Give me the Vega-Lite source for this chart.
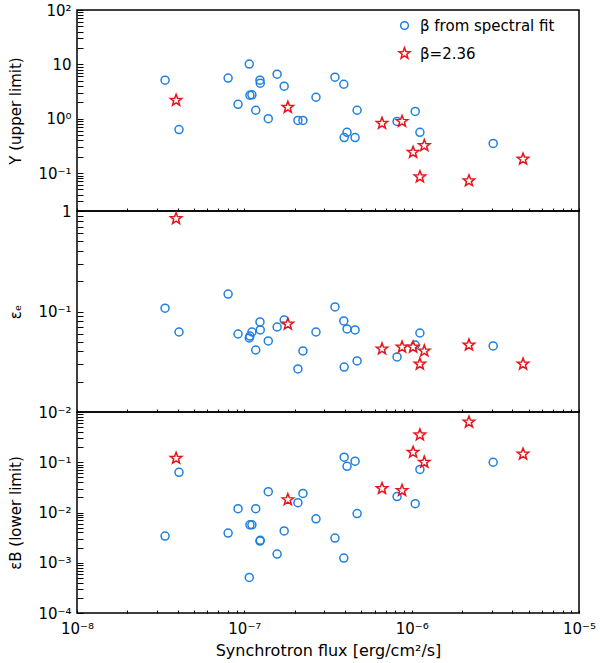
{
  "$schema": "https://vega.github.io/schema/vega-lite/v6.json",
  "description": "Y, epsilon_e and epsilon_B against synchrotron flux, two samples",
  "padding": {"left": 8, "top": 2, "right": 3, "bottom": 2},
  "data": {
    "values": [
      {"flux": 3.36e-8, "Y": 5.1, "ee": 0.108, "eB": 0.0034, "type": "fit"},
      {"flux": 4.07e-8, "Y": 0.63, "ee": 0.0625, "eB": 0.063, "type": "fit"},
      {"flux": 8.0e-8, "Y": 5.6, "ee": 0.149, "eB": 0.0039, "type": "fit"},
      {"flux": 9.17e-8, "Y": 1.84, "ee": 0.0597, "eB": 0.0119, "type": "fit"},
      {"flux": 1.07e-7, "Y": 10.1, "ee": 0.0545, "eB": 0.00051, "type": "fit"},
      {"flux": 1.08e-7, "Y": 2.7, "ee": 0.057, "eB": 0.0057, "type": "fit"},
      {"flux": 1.11e-7, "Y": 2.75, "ee": 0.0625, "eB": 0.0057, "type": "fit"},
      {"flux": 1.17e-7, "Y": 1.43, "ee": 0.0414, "eB": 0.0119, "type": "fit"},
      {"flux": 1.24e-7, "Y": 5.1, "ee": 0.0787, "eB": 0.0027, "type": "fit"},
      {"flux": 1.245e-7, "Y": 4.5, "ee": 0.0655, "eB": 0.0028, "type": "fit"},
      {"flux": 1.39e-7, "Y": 1.0, "ee": 0.0509, "eB": 0.026, "type": "fit"},
      {"flux": 1.57e-7, "Y": 6.6, "ee": 0.0701, "eB": 0.00149, "type": "fit"},
      {"flux": 1.73e-7, "Y": 3.96, "ee": 0.0823, "eB": 0.0043, "type": "fit"},
      {"flux": 2.09e-7, "Y": 0.93, "ee": 0.0268, "eB": 0.0157, "type": "fit"},
      {"flux": 2.24e-7, "Y": 0.93, "ee": 0.0405, "eB": 0.024, "type": "fit"},
      {"flux": 2.68e-7, "Y": 2.48, "ee": 0.0625, "eB": 0.0075, "type": "fit"},
      {"flux": 3.48e-7, "Y": 5.8, "ee": 0.111, "eB": 0.0031, "type": "fit"},
      {"flux": 3.93e-7, "Y": 4.3, "ee": 0.0805, "eB": 0.00124, "type": "fit"},
      {"flux": 3.95e-7, "Y": 0.45, "ee": 0.028, "eB": 0.126, "type": "fit"},
      {"flux": 4.11e-7, "Y": 0.56, "ee": 0.067, "eB": 0.083, "type": "fit"},
      {"flux": 4.59e-7, "Y": 0.45, "ee": 0.0655, "eB": 0.105, "type": "fit"},
      {"flux": 4.72e-7, "Y": 1.43, "ee": 0.0322, "eB": 0.0095, "type": "fit"},
      {"flux": 8.18e-7, "Y": 0.89, "ee": 0.0353, "eB": 0.0207, "type": "fit"},
      {"flux": 1.05e-6, "Y": 1.36, "ee": 0.0464, "eB": 0.015, "type": "fit"},
      {"flux": 1.12e-6, "Y": 0.56, "ee": 0.0611, "eB": 0.072, "type": "fit"},
      {"flux": 3.07e-6, "Y": 0.35, "ee": 0.0454, "eB": 0.1, "type": "fit"},
      {"flux": 3.91e-8, "Y": 2.18, "ee": 0.84, "eB": 0.12, "type": "fixed"},
      {"flux": 1.82e-7, "Y": 1.62, "ee": 0.075, "eB": 0.018, "type": "fixed"},
      {"flux": 6.65e-7, "Y": 0.82, "ee": 0.0424, "eB": 0.03, "type": "fixed"},
      {"flux": 8.76e-7, "Y": 0.89, "ee": 0.0443, "eB": 0.0274, "type": "fixed"},
      {"flux": 1.02e-6, "Y": 0.24, "ee": 0.0443, "eB": 0.158, "type": "fixed"},
      {"flux": 1.12e-6, "Y": 0.085, "ee": 0.03, "eB": 0.35, "type": "fixed"},
      {"flux": 1.19e-6, "Y": 0.32, "ee": 0.0405, "eB": 0.1, "type": "fixed"},
      {"flux": 2.2e-6, "Y": 0.072, "ee": 0.0464, "eB": 0.63, "type": "fixed"},
      {"flux": 4.63e-6, "Y": 0.18, "ee": 0.03, "eB": 0.145, "type": "fixed"}
    ]
  },
  "spacing": 0,
  "bounds": "flush",
  "vconcat": [
    {
      "width": 502,
      "height": 201,
      "mark": {"type": "point", "strokeWidth": 1.5, "opacity": 1, "size": 64},
      "encoding": {
        "x": {
          "field": "flux", "type": "quantitative",
          "scale": {"type": "log", "domain": [1e-8, 1e-5], "nice": false},
          "axis": {"orient": "bottom", "labels": false, "title": null, "tickSize": -3,
            "values": [1e-8, 2e-8, 3e-8, 4e-8, 5e-8, 6e-8, 7e-8, 8e-8, 9e-8, 1e-7, 2e-7, 3e-7, 4e-7, 5e-7, 6e-7, 7e-7, 8e-7, 9e-7, 1e-6, 2e-6, 3e-6, 4e-6, 5e-6, 6e-6, 7e-6, 8e-6, 9e-6, 1e-5]}
        },
        "y": {
          "field": "Y", "type": "quantitative",
          "scale": {"type": "log", "domain": [0.02, 100], "nice": false},
          "axis": {
            "orient": "left", "title": "Y (upper limit)", "tickSize": -6, "labelPadding": 12, "titlePadding": 14,
            "labelFont": "DejaVu Sans", "labelFontSize": 15, "titleFont": "DejaVu Sans", "titleFontSize": 15, "titleFontWeight": "normal",
            "values": [0.02, 0.03, 0.04, 0.05, 0.06, 0.07, 0.08, 0.09, 0.1, 0.2, 0.3, 0.4, 0.5, 0.6, 0.7, 0.8, 0.9, 1, 2, 3, 4, 5, 6, 7, 8, 9, 10, 20, 30, 40, 50, 60, 70, 80, 90, 100],
            "labelExpr": "datum.value == 100 ? '10²' : datum.value == 10 ? '10' : datum.value == 1 ? '10⁰' : datum.value == 0.1 ? '10⁻¹' : ''"
          }
        },
        "shape": {
          "field": "type", "type": "nominal",
          "scale": {"domain": ["fit", "fixed"], "range": ["circle", "M0,-1.5L0.37,-0.51L1.427,-0.464L0.599,0.195L0.882,1.214L0,0.63L-0.882,1.214L-0.599,0.195L-1.427,-0.464L-0.37,-0.51Z"]},
          "legend": {
            "orient": "none", "legendX": 320, "legendY": 8, "title": null,
            "labelExpr": "datum.value == 'fit' ? 'β from spectral fit' : 'β=2.36'",
            "labelFontSize": 15, "labelFont": "DejaVu Sans", "labelOffset": 8,
            "symbolSize": 60, "symbolStrokeWidth": 1.5, "symbolOpacity": 1, "rowPadding": 10
          }
        },
        "stroke": {
          "field": "type", "type": "nominal",
          "scale": {"domain": ["fit", "fixed"], "range": ["#1f7fe0", "#e8141c"]}
        },
        "fill": {
          "field": "type", "type": "nominal",
          "scale": {"domain": ["fit", "fixed"], "range": ["transparent", "white"]},
          "legend": null
        }
      }
    },
    {
      "width": 502,
      "height": 201,
      "mark": {"type": "point", "strokeWidth": 1.5, "opacity": 1, "size": 64},
      "encoding": {
        "x": {
          "field": "flux", "type": "quantitative",
          "scale": {"type": "log", "domain": [1e-8, 1e-5], "nice": false},
          "axis": {"orient": "bottom", "labels": false, "title": null, "tickSize": -3,
            "values": [1e-8, 2e-8, 3e-8, 4e-8, 5e-8, 6e-8, 7e-8, 8e-8, 9e-8, 1e-7, 2e-7, 3e-7, 4e-7, 5e-7, 6e-7, 7e-7, 8e-7, 9e-7, 1e-6, 2e-6, 3e-6, 4e-6, 5e-6, 6e-6, 7e-6, 8e-6, 9e-6, 1e-5]}
        },
        "y": {
          "field": "ee", "type": "quantitative",
          "scale": {"type": "log", "domain": [0.01, 1], "nice": false},
          "axis": {
            "orient": "left", "title": "εₑ", "tickSize": -6, "labelPadding": 12, "titlePadding": 14,
            "labelFont": "DejaVu Sans", "labelFontSize": 15, "titleFont": "DejaVu Sans", "titleFontSize": 15, "titleFontWeight": "normal",
            "values": [0.01, 0.02, 0.03, 0.04, 0.05, 0.06, 0.07, 0.08, 0.09, 0.1, 0.2, 0.3, 0.4, 0.5, 0.6, 0.7, 0.8, 0.9, 1],
            "labelExpr": "datum.value == 1 ? '1' : datum.value == 0.1 ? '10⁻¹' : datum.value == 0.01 ? '10⁻²' : ''"
          }
        },
        "shape": {"field": "type", "type": "nominal", "legend": null},
        "stroke": {"field": "type", "type": "nominal", "legend": null},
        "fill": {"field": "type", "type": "nominal", "legend": null}
      }
    },
    {
      "width": 502,
      "height": 201,
      "mark": {"type": "point", "strokeWidth": 1.5, "opacity": 1, "size": 64},
      "encoding": {
        "x": {
          "field": "flux", "type": "quantitative",
          "scale": {"type": "log", "domain": [1e-8, 1e-5], "nice": false},
          "axis": {
            "orient": "bottom", "title": "Synchrotron flux [erg/cm²/s]", "tickSize": -3,
            "labelPadding": 11, "titlePadding": 6, "labelFlush": false,
            "labelFont": "DejaVu Sans", "labelFontSize": 15, "titleFont": "DejaVu Sans", "titleFontSize": 16, "titleFontWeight": "normal",
            "values": [1e-8, 2e-8, 3e-8, 4e-8, 5e-8, 6e-8, 7e-8, 8e-8, 9e-8, 1e-7, 2e-7, 3e-7, 4e-7, 5e-7, 6e-7, 7e-7, 8e-7, 9e-7, 1e-6, 2e-6, 3e-6, 4e-6, 5e-6, 6e-6, 7e-6, 8e-6, 9e-6, 1e-5],
            "labelExpr": "datum.value == 0.00000001 ? '10⁻⁸' : datum.value == 0.0000001 ? '10⁻⁷' : datum.value == 0.000001 ? '10⁻⁶' : datum.value == 0.00001 ? '10⁻⁵' : ''"
          }
        },
        "y": {
          "field": "eB", "type": "quantitative",
          "scale": {"type": "log", "domain": [0.0001, 1], "nice": false},
          "axis": {
            "orient": "left", "title": "εB (lower limit)", "tickSize": -6, "labelPadding": 12, "titlePadding": 14,
            "labelFont": "DejaVu Sans", "labelFontSize": 15, "titleFont": "DejaVu Sans", "titleFontSize": 15, "titleFontWeight": "normal",
            "values": [0.0001, 0.0002, 0.0003, 0.0004, 0.0005, 0.0006, 0.0007, 0.0008, 0.0009, 0.001, 0.002, 0.003, 0.004, 0.005, 0.006, 0.007, 0.008, 0.009, 0.01, 0.02, 0.03, 0.04, 0.05, 0.06, 0.07, 0.08, 0.09, 0.1, 0.2, 0.3, 0.4, 0.5, 0.6, 0.7, 0.8, 0.9, 1],
            "labelExpr": "datum.value == 0.1 ? '10⁻¹' : datum.value == 0.01 ? '10⁻²' : datum.value == 0.001 ? '10⁻³' : datum.value == 0.0001 ? '10⁻⁴' : ''"
          }
        },
        "shape": {"field": "type", "type": "nominal", "legend": null},
        "stroke": {"field": "type", "type": "nominal", "legend": null},
        "fill": {"field": "type", "type": "nominal", "legend": null}
      }
    }
  ],
  "config": {
    "view": {"stroke": "black", "strokeWidth": 1.5},
    "axis": {"grid": false, "tickColor": "black", "domain": false, "labelOverlap": false}
  }
}
